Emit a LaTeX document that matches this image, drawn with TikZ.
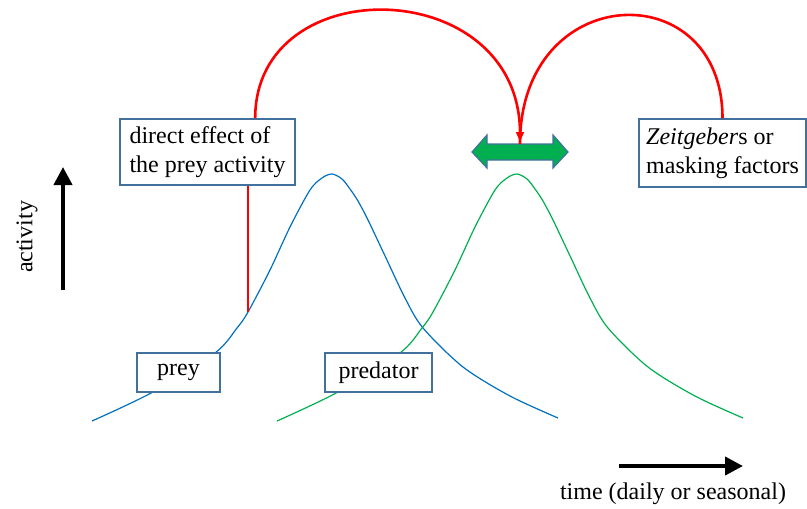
\documentclass[tikz,border=0pt]{standalone}
\usepackage{fontspec}
\setmainfont{Liberation Serif}
\usetikzlibrary{arrows.meta,calc}
\definecolor{boxblue}{HTML}{41719C}
\definecolor{preyblue}{HTML}{0070C0}
\definecolor{predgreen}{HTML}{00B050}
\begin{document}
\begin{tikzpicture}[x=0.5pt, y=-0.5pt, font=\fontsize{12}{14.5}\selectfont,
    box/.style={draw=boxblue, line width=0.8pt, fill=white, inner sep=0pt, align=left},
    link/.style={red, line width=1.3pt},
    axis/.style={line width=2pt, -{Triangle[length=9pt,width=9pt]}}]
      \useasboundingbox (0,0) rectangle (807,508);

      % Curves
      \foreach \dx/\col in {0/preyblue, 185/predgreen}
        \draw[\col, line width=0.6pt, xshift=\dx*0.5pt] plot[smooth, tension=0.5] coordinates {
          (92,421) (153,392) (215,353) (237,328) (248,312) (270,270) (290,227) (310,190)
          (322,178) (332,174) (342,179) (350,189) (358,201) (368,220) (386,258) (405,298)
          (423,328) (463,367) (510,396) (558,418)};

      % Nodes
      \node[box, minimum width=87.5pt, minimum height=33pt] at (207.5,152) (effect) {direct effect of\\the prey activity};
      \node[box, minimum width=83.5pt, minimum height=34pt] at (722.5,153) (zeit) {\textit{Zeitgeber}s or\\masking factors};
      \node[box, minimum width=41.5pt, minimum height=19.5pt] at (178.5,372.5) (prey) {prey};
      \node[box, minimum width=53.5pt, minimum height=19.5pt] at (378.5,372.5) (pred) {predator};
      \node[rotate=90] at (27,237) (act) {activity};
      \node at (673,494) (time) {time (daily or seasonal)};

      % Green double arrow
      \draw[draw=boxblue, line width=0.6pt, fill=predgreen] (472,152) -- (487,135) -- (487,144) -- (553,144)
        -- (553,135) -- (568,152) -- (553,168) -- (553,160) -- (487,160) -- (487,168) -- cycle;
      \coordinate (shift) at (520,144);

      % Links
      \coordinate (hit) at (248,312);
      \coordinate (a1) at ($(effect.north west)!0.77!(effect.north east)$);
      \draw[link] (effect.south -| hit) -- (hit);
      \draw[link, -{Latex[length=6pt,width=4.5pt]}] (a1) .. controls +(0,-150) and +(0,-170) .. (shift);
      \draw[link] (zeit.north) .. controls +(0,-145) and +(0,-164) .. (shift);

      % Axes
      \coordinate (ybot) at (63,290);
      \coordinate (ytop) at (63,167);
      \coordinate (xleft) at (619,466);
      \coordinate (xright) at (743,466);
      \draw[axis] (ybot) -- (ytop);
      \draw[axis] (xleft) -- (xright);
    \end{tikzpicture}
\end{document}
